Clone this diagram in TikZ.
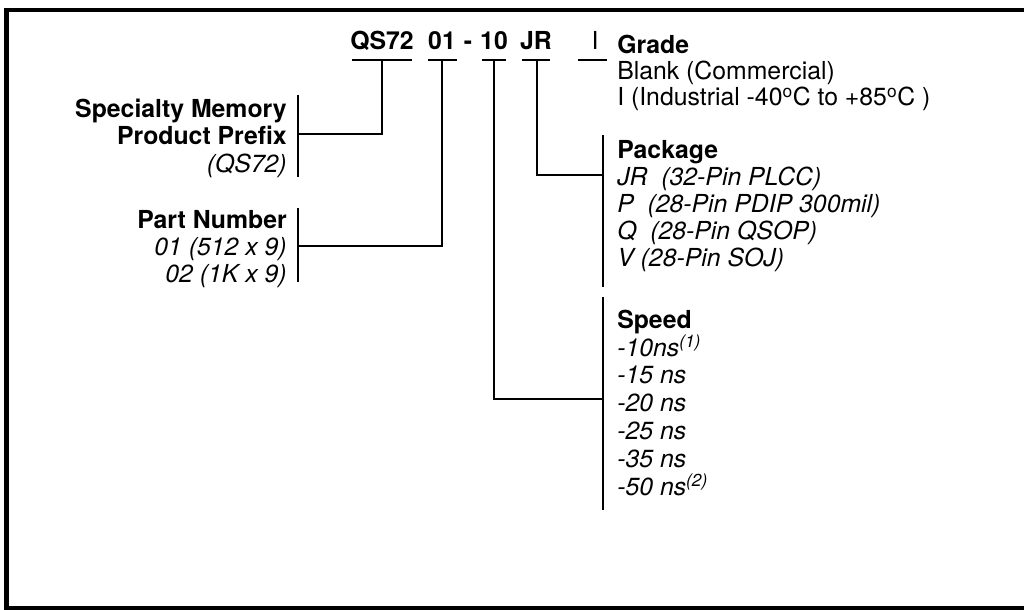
\documentclass[tikz,border=0pt]{standalone}
\usepackage{fontspec}
\setmainfont{TeX Gyre Heros}
\begin{document}
\begin{tikzpicture}[x=0.75pt,y=-0.75pt]
		\tikzset{cd/.style={font=\fontsize{18.6}{20.4}\selectfont\bfseries, inner sep=0, anchor=base}};
		\tikzset{lbl/.style={font=\fontsize{18.6}{20.4}\selectfont, inner sep=0, align=left, anchor=north west}};
		\tikzset{lbr/.style={font=\fontsize{18.6}{20.4}\selectfont, inner sep=0, align=right, anchor=north east}};
		\tikzset{ln/.style={line width=1pt}};

		\clip (0,0) rectangle (1024,610);
		\draw[line width=3.4pt] (6.5,10) rectangle (1040,608);

		\node[cd] (qs) at (382, 50) {QS72};
		\node[cd] (n01) at (442, 50) {01};
		\node[cd] (dsh) at (468, 50) {-};
		\node[cd] (n10) at (494, 50) {10};
		\node[cd] (jr) at (536, 50) {JR};
		\node[cd, font=\fontsize{18.6}{20.4}\selectfont] (gi) at (595, 50) {I};

		\node[lbr] (spec) at (287, 99) {\textbf{Specialty Memory}\\\textbf{Product Prefix}\\\textit{(QS72)}};
		\node[lbr] (part) at (287, 210) {\textbf{Part Number}\\\textit{01 (512 x 9)}\\\textit{02 (1K x 9)}};
		\node[lbl, font=\fontsize{18.6}{19.6}\selectfont] (grade) at (617, 35) {\textbf{Grade}\\Blank (Commercial)\\I (Industrial -40\textsuperscript{o}C to +85\textsuperscript{o}C )};
		\node[lbl, font=\fontsize{18.6}{20.1}\selectfont] (pkg) at (617, 140.5) {\textbf{Package}\\\textit{JR\ \ (32-Pin PLCC)}\\\textit{P\ \ (28-Pin PDIP 300mil)}\\\textit{Q\ \ (28-Pin QSOP)}\\\textit{V (28-Pin SOJ)}};
		\node[lbl, font=\fontsize{18.6}{20.9}\selectfont] (speed) at (617, 309.5) {\textbf{Speed}\\\textit{-10ns\textsuperscript{(1)}}\\\textit{-15 ns}\\\textit{-20 ns}\\\textit{-25 ns}\\\textit{-35 ns}\\\textit{-50 ns\textsuperscript{(2)}}};

		% underlines
		\draw[ln] (352, 60) -- (412, 60);
		\draw[ln] (428, 60) -- (457, 60);
		\draw[ln] (482, 60) -- (506, 60);
		\draw[ln] (522, 60) -- (550, 60);
		\draw[ln] (578, 60) -- (607, 60);

		% brackets
		\draw[ln] (298, 95) -- (298, 177);
		\draw[ln] (298, 208) -- (298, 282);
		\draw[ln] (603, 135) -- (603, 287);
		\draw[ln] (603, 297) -- (603, 510);

		\coordinate (dqs) at (382, 60);
		\coordinate (d01) at (442, 60);
		\coordinate (d10) at (494, 60);
		\coordinate (djr) at (537, 60);
		\coordinate (bspec) at (298, 134);
		\coordinate (bpart) at (298, 246);
		\coordinate (bpkg) at (603, 175);
		\coordinate (bspeed) at (603, 399);

		\draw[ln] (dqs) |- (bspec);
		\draw[ln] (d01) |- (bpart);
		\draw[ln] (djr) |- (bpkg);
		\draw[ln] (d10) |- (bspeed);

	\end{tikzpicture}
\end{document}
